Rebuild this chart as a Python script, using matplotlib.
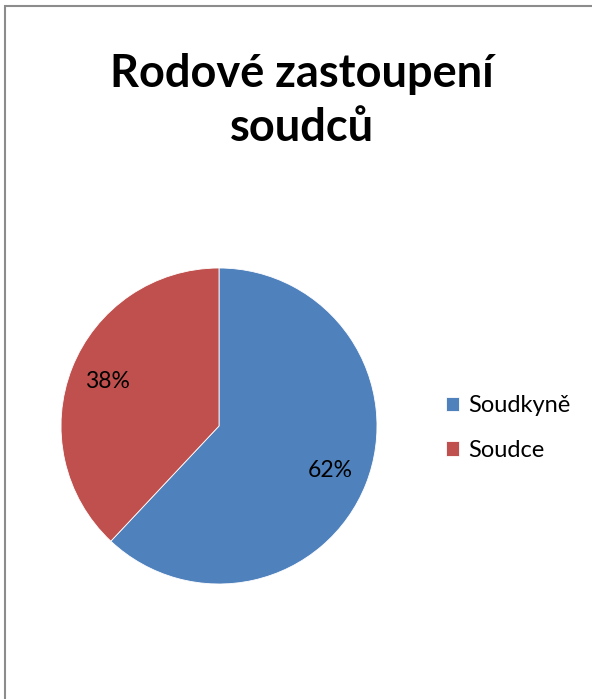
import matplotlib
matplotlib.use("Agg")
import matplotlib.pyplot as plt
from matplotlib.patches import Rectangle

plt.rcParams["font.family"] = ["Lato", "DejaVu Sans"]

# data
labels = ["Soudkyně", "Soudce"]
shares = [62, 38]
colors = ["#4F81BD", "#C0504D"]
title = "Rodové zastoupení\nsoudců"

W, H = 592, 699
fig = plt.figure(figsize=(W / 100, H / 100), dpi=100)

# chart border (only left/top edges fall inside the picture)
fig.add_artist(Rectangle((5 / W, -0.1), 1.2, 1.1 - 6 / H, transform=fig.transFigure,
                         fill=False, edgecolor="#8c8c8c", linewidth=1.5))

cx, cy, r = 219, 426, 158
ax = fig.add_axes([(cx - r) / W, 1 - (cy + r) / H, 2 * r / W, 2 * r / H])
wedges, _, autotexts = ax.pie(shares, colors=colors, startangle=90, counterclock=False,
                              autopct="%1.0f%%", pctdistance=0.76,
                              wedgeprops={"edgecolor": "white", "linewidth": 0.6},
                              textprops={"fontsize": 16.5, "color": "black"})
ax.set_aspect("auto")
ax.set_xlim(-1, 1)
ax.set_ylim(-1, 1)

fig.text(302 / W, 1 - 101 / H, title, ha="center", va="center", fontsize=32.5,
         fontweight="bold", linespacing=1.35)

fig.legend(wedges, labels, loc="center left", bbox_to_anchor=(425 / W, 1 - 428 / H),
           frameon=False, fontsize=17, handlelength=0.55, handleheight=0.55,
           handletextpad=0.4, labelspacing=1.0)

fig.savefig("out.png", dpi=100)
